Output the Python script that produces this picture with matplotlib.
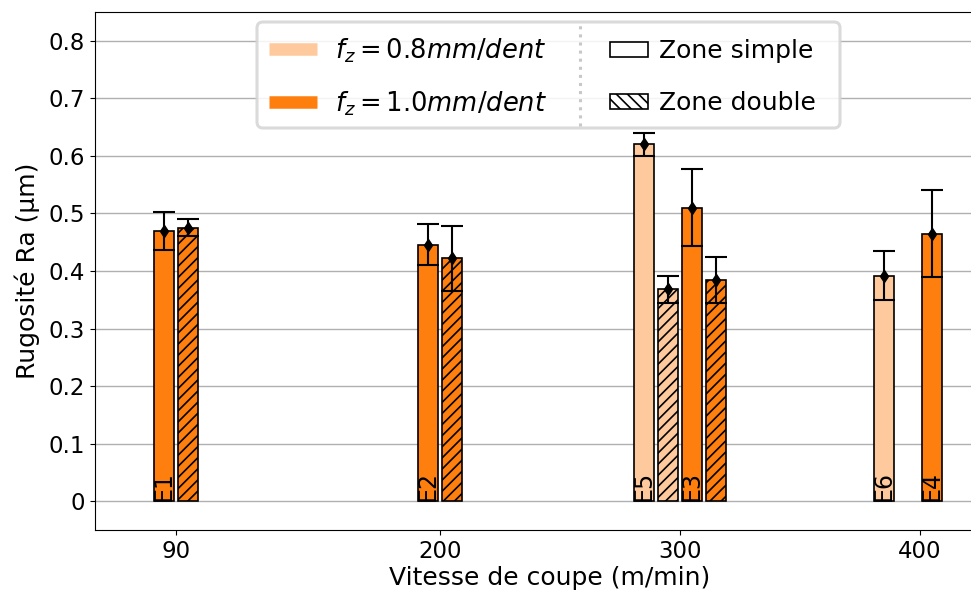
import matplotlib
matplotlib.use("Agg")
import matplotlib.pyplot as plt
from matplotlib.patches import Patch, FancyBboxPatch
from matplotlib.lines import Line2D
from matplotlib.transforms import IdentityTransform

# ---------------- data ----------------
speeds = ["90", "200", "300", "400"]
bar_speed = ["90", "90", "200", "200", "300", "300", "300", "300", "400", "400"]
bar_feed = [1.0, 1.0, 1.0, 1.0, 0.8, 0.8, 1.0, 1.0, 0.8, 1.0]
bar_zone = ["simple", "double", "simple", "double", "simple", "double",
            "simple", "double", "simple", "simple"]
bar_ra = [0.470, 0.475, 0.446, 0.422, 0.620, 0.368, 0.510, 0.385, 0.392, 0.465]
bar_err = [0.033, 0.015, 0.036, 0.057, 0.020, 0.024, 0.067, 0.040, 0.043, 0.076]
bar_label = ["E1", "", "E2", "", "E5", "", "E3", "", "E6", "E4"]
yticks = [0, 0.1, 0.2, 0.3, 0.4, 0.5, 0.6, 0.7, 0.8]
ytick_labels = ["0", "0.1", "0.2", "0.3", "0.4", "0.5", "0.6", "0.7", "0.8"]
legend_feed_labels = [r"$f_z = 0.8mm/dent$", r"$f_z = 1.0mm/dent$"]
legend_zone_labels = ["Zone simple", "Zone double"]

# ---------------- layout ----------------
group_pos = {"90": 0.0, "200": 2.75, "300": 5.25, "400": 7.75}
bar_slot = [-0.5, 0.5, -0.5, 0.5, -1.5, -0.5, 0.5, 1.5, -1.5, 0.5]
pitch = 0.25
width = 0.21
colors = {0.8: "#fec99c", 1.0: "#ff7f0e"}
matplotlib.rcParams["hatch.linewidth"] = 1.2

W, H = 971, 596
fig = plt.figure(figsize=(W / 100, H / 100), dpi=100)
ax = fig.add_axes([95 / W, 1 - 530 / H, (W - 95) / W, (530 - 12) / H])
ax.spines["right"].set_visible(False)

for i in range(len(bar_ra)):
    x = group_pos[bar_speed[i]] + bar_slot[i] * pitch
    hatch = "///" if bar_zone[i] == "double" else None
    ax.bar(x, bar_ra[i], width=width, color=colors[bar_feed[i]],
           edgecolor="black", linewidth=1.2, hatch=hatch, zorder=3)
    ax.errorbar(x, bar_ra[i], yerr=bar_err[i], fmt="d", color="black",
                ms=6.5, elinewidth=1.5, capsize=8, capthick=1.5, zorder=4)
    if bar_label[i]:
        ax.text(x, 0, bar_label[i], rotation=90, ha="center", va="bottom",
                fontsize=17, color="black", zorder=5)

ax.set_xlim(-0.844, 8.28)
ax.set_ylim(-0.05, 0.85)
ax.set_xticks([group_pos[s] for s in speeds])
ax.set_xticklabels(speeds, fontsize=16.5)
ax.set_yticks(yticks)
ax.set_yticklabels(ytick_labels, fontsize=16.5)
ax.yaxis.grid(True, color="#b0b0b0", linewidth=1.0, zorder=0)
ax.set_axisbelow(True)
ax.set_xlabel("Vitesse de coupe (m/min)", fontsize=18, labelpad=2,
              x=(550 - 95) / (W - 95))
ax.set_ylabel("Rugosité Ra (µm)", fontsize=18, labelpad=6)

# legend frame
frame = FancyBboxPatch((257, H - 128), 583, 106,
                       boxstyle="round,pad=0,rounding_size=6",
                       transform=IdentityTransform(), facecolor="white",
                       edgecolor="#d4d4d4", linewidth=2.2, alpha=0.85, zorder=4)
fig.patches.append(frame)
sep = Line2D([580, 580], [H - 126, H - 24], transform=IdentityTransform(),
             color="#c8c8c8", linestyle=":", linewidth=2.2, zorder=4.5)
fig.lines.append(sep)

feed_handles = [Line2D([0], [0], color=colors[0.8], lw=9, solid_capstyle="butt"),
                Line2D([0], [0], color=colors[1.0], lw=9, solid_capstyle="butt")]
zone_handles = [Patch(facecolor="white", edgecolor="black", linewidth=1.2),
                Patch(facecolor="white", edgecolor="black", linewidth=1.2,
                      hatch="\\\\\\")]
yc = 1 - 77 / H
leg1 = fig.legend(feed_handles, legend_feed_labels, loc="center left",
                  bbox_to_anchor=(269 / W, yc), frameon=False, fontsize=18.5,
                  borderpad=0, borderaxespad=0, handlelength=1.85,
                  handletextpad=0.7, labelspacing=0.95)
leg2 = fig.legend(zone_handles, legend_zone_labels, loc="center left",
                  bbox_to_anchor=(610 / W, yc), frameon=False, fontsize=18,
                  borderpad=0, borderaxespad=0, handlelength=1.5,
                  handleheight=0.55, handletextpad=0.45, labelspacing=1.12)
leg1.set_zorder(6)
leg2.set_zorder(6)

fig.savefig("out.png", dpi=100)
